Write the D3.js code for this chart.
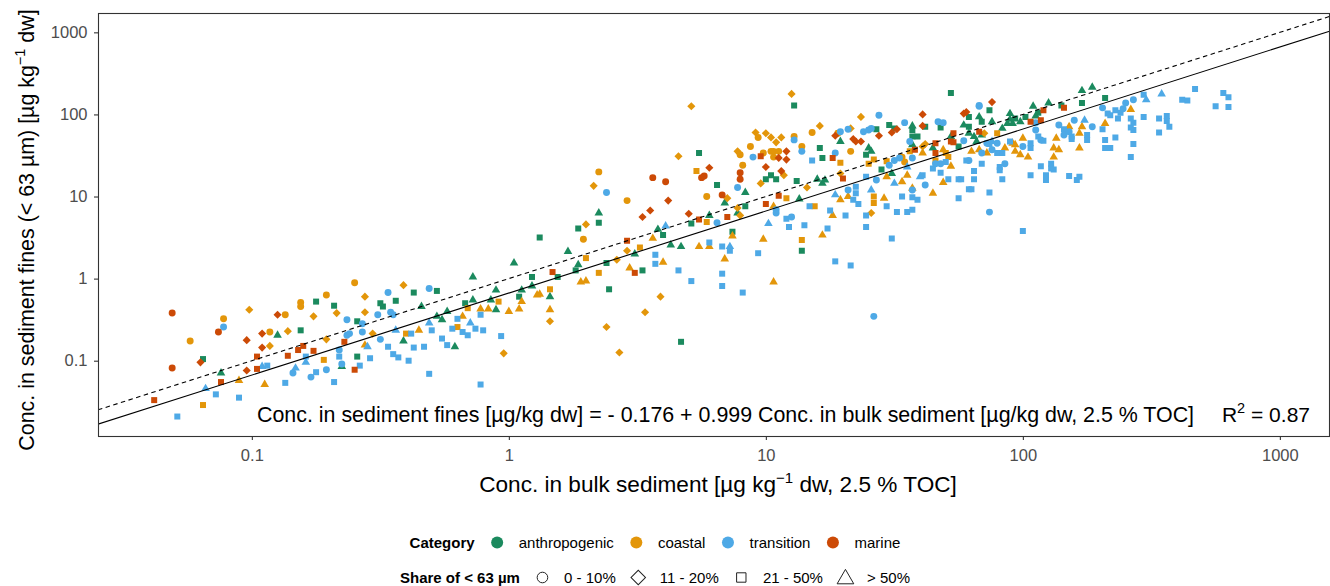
<!DOCTYPE html>
<html><head><meta charset="utf-8">
<script src="https://cdn.jsdelivr.net/npm/d3@7"></script>
<style>
body{margin:0;background:#fff;}
svg{font-family:"Liberation Sans",Arial,Helvetica,sans-serif;}
</style></head><body>
<svg id="chart" width="1330" height="586"></svg>
<script>
// categories, share classes, colours
const categories = ["anthropogenic", "coastal", "transition", "marine"];
const categoryColors = ["#1b8a5e", "#e3960a", "#4ea9e6", "#cc4a06"];
const shares = ["0 - 10%", "11 - 20%", "21 - 50%", "> 50%"];

// rows: [log10 conc. bulk, log10 conc. fines, share class index]
const anthropogenic = [
[-1.19,-0.98,2],[-1.12,-1.15,3],[-0.90,-0.69,3],[-0.81,-0.63,2],[-0.75,-0.28,2],[-0.68,-0.33,2],[-0.65,-1.07,3],[-0.59,-0.52,2],
[-0.59,-0.95,2],[-0.50,-0.30,2],[-0.49,-0.34,2],[-0.44,-0.27,2],[-0.41,-0.76,3],[-0.37,-0.17,2],[-0.34,-0.34,3],[-0.28,-0.15,2],
[-0.28,-0.46,3],[-0.26,-0.50,3],[-0.24,-0.40,3],[-0.21,-0.83,3],[-0.17,-0.30,2],[-0.14,0.02,3],[-0.14,-0.26,3],[-0.07,-0.26,3],
[-0.05,-0.38,3],[-0.05,-0.14,3],[0.02,0.19,3],[0.04,-0.22,2],[0.05,-0.14,3],[0.09,0.02,2],[0.09,-0.09,3],[0.16,-0.22,3],
[0.19,0.02,2],[0.23,0.33,3],[0.27,0.17,3],[0.26,0.10,2],[0.38,0.19,2],[0.39,-0.13,2],[0.49,0.30,3],[0.52,0.10,2],
[0.67,-0.77,2],[1.14,0.34,2],[0.12,0.50,2],[0.27,0.61,2],[0.35,0.68,2],[0.35,0.80,3],[0.58,0.60,3],[0.60,0.53,2],
[0.63,0.41,3],[0.67,0.39,3],[0.71,0.67,2],[0.74,1.53,2],[0.78,0.77,3],[0.81,1.14,2],[0.84,0.92,3],[0.87,0.57,2],
[0.89,0.80,3],[0.92,1.05,3],[0.92,0.88,2],[1.00,1.21,2],[1.02,1.26,2],[1.04,1.21,2],[1.11,2.11,2],[1.12,1.19,2],
[1.13,0.97,3],[1.20,1.21,3],[1.21,1.59,2],[1.22,1.47,2],[1.22,1.16,3],[1.23,1.20,3],[1.29,1.67,3],[1.39,1.51,2],
[1.40,1.59,3],[1.43,1.82,2],[1.48,1.87,2],[1.50,1.83,2],[1.57,1.86,3],[1.57,1.81,2],[1.57,1.73,2],[1.59,1.73,2],
[1.62,1.85,2],[1.68,1.84,2],[1.72,2.26,2],[1.57,1.63,3],[1.65,1.59,3],[1.72,1.73,3],[1.75,1.61,2],[1.77,1.87,3],
[1.79,1.97,2],[1.79,1.85,2],[1.79,1.77,3],[1.81,1.73,3],[1.82,1.67,3],[1.83,1.97,3],[1.84,1.91,2],[1.84,1.75,3],
[1.87,2.05,2],[1.88,1.91,3],[1.92,1.83,3],[1.94,1.89,3],[1.95,2.01,3],[1.95,1.94,3],[1.96,1.89,3],[1.97,1.95,2],
[1.99,1.91,3],[2.01,1.97,2],[2.04,2.10,3],[2.05,1.98,3],[2.06,2.02,2],[2.10,2.14,3],[2.15,2.11,2],[2.23,2.29,3],
[2.27,2.33,3],[2.23,2.14,2],[2.32,2.20,2],[1.41,1.55,3],[1.45,1.33,2],[1.49,1.28,3]
];
const coastal = [
[-1.24,-0.76,0],[-1.19,-1.54,2],[-1.11,-0.49,0],[-1.05,-1.24,3],[-1.01,-0.38,1],[-0.93,-0.65,0],[-0.93,-0.82,1],[-0.95,-1.29,3],
[-0.87,-0.44,0],[-0.86,-0.64,1],[-0.81,-0.29,0],[-0.81,-0.34,0],[-0.76,-0.46,1],[-0.72,-0.99,2],[-0.71,-0.20,0],[-0.71,-0.74,1],
[-0.67,-0.42,1],[-0.60,-0.05,0],[-0.56,-0.22,1],[-0.56,-0.41,1],[-0.56,-0.81,3],[-0.53,-0.67,1],[-0.41,-0.08,1],[-0.40,-0.67,2],
[-0.35,-0.63,3],[-0.20,-0.59,2],[-0.18,-0.46,3],[-0.16,-0.36,2],[-0.11,-0.37,3],[-0.08,-0.37,3],[-0.04,-0.28,2],[-0.02,-0.91,1],
[0.00,-0.40,3],[0.04,-0.37,3],[0.05,-0.28,3],[0.11,-0.20,3],[0.12,-0.19,3],[0.16,-0.13,2],[0.16,-0.38,3],[0.16,-0.52,1],
[0.28,-0.04,3],[0.30,-0.03,3],[0.30,0.25,2],[0.35,0.07,2],[0.38,-0.59,1],[0.42,0.23,1],[0.43,-0.90,1],[0.46,0.34,1],
[0.47,0.13,3],[0.53,-0.41,1],[0.59,-0.22,1],[0.60,0.20,3],[0.84,0.24,3],[1.03,-0.04,3],[0.29,0.48,0],[0.30,0.66,1],
[0.33,1.13,1],[0.35,1.30,0],[0.46,0.95,0],[0.51,0.38,2],[0.56,0.49,3],[0.66,1.49,1],[0.71,2.10,1],[0.73,1.31,2],
[0.74,0.39,3],[0.78,0.39,3],[0.77,0.69,2],[0.77,1.00,0],[0.85,0.98,1],[0.87,0.52,3],[0.89,0.86,1],[0.89,1.55,1],
[0.90,1.51,0],[0.91,1.38,0],[0.90,0.77,1],[0.94,1.61,0],[0.96,1.78,1],[0.97,1.72,0],[0.98,1.16,1],[0.99,1.53,0],
[0.99,0.48,3],[1.00,1.77,1],[1.02,1.72,1],[1.02,1.55,0],[1.03,0.88,3],[1.03,1.55,0],[1.03,1.48,0],[1.04,1.66,1],
[1.05,1.55,0],[1.06,1.72,1],[1.07,1.26,1],[1.08,0.98,2],[1.10,2.25,1],[1.11,1.73,0],[1.14,1.61,0],[1.14,0.47,2],
[1.16,1.11,1],[1.18,1.78,0],[1.19,0.88,2],[1.21,1.86,1],[1.22,0.53,3],[1.26,0.77,3],[1.28,1.77,0],[1.29,1.41,2],
[1.29,1.28,1],[1.29,0.96,3],[1.33,1.55,0],[1.33,1.83,1],[1.32,1.00,3],[1.37,1.97,1],[1.40,1.40,2],[1.56,1.55,2],
[1.62,1.64,1],[1.61,1.61,1],[1.61,1.53,3],[1.66,1.44,2],[1.69,1.57,3],[1.70,1.53,2],[1.71,1.48,2],[1.85,1.77,1],
[1.90,1.77,2],[1.42,1.45,2],[1.47,1.43,2],[1.47,1.24,3],[1.53,1.48,0],[1.54,1.42,0],[1.55,1.26,3],[1.53,1.18,3],
[1.42,1.00,2],[1.57,1.10,3],[1.65,1.04,3],[1.69,1.17,3],[1.72,1.37,3],[1.80,1.55,3],[1.83,1.57,3],[1.86,1.53,3],
[1.93,1.59,3],[1.96,1.65,3],[1.97,1.55,3],[1.97,1.63,3],[1.99,1.51,3],[2.00,1.71,3],[2.02,1.48,3],[2.12,1.48,3],
[2.12,1.59,3],[2.13,1.71,3],[2.14,1.57,3],[2.18,1.85,3],[2.22,1.59,3],[2.22,1.77,3],[2.23,1.85,3],[2.32,1.89,3],
[2.42,2.06,3],[1.41,0.80,1],[1.42,0.92,2],[1.46,0.98,3]
];
const transition = [
[-1.29,-1.68,2],[-1.18,-1.34,3],[-1.14,-1.41,2],[-1.11,-0.59,0],[-1.05,-1.45,2],[-0.96,-1.07,3],[-0.94,-1.06,2],[-0.87,-1.27,2],
[-0.84,-1.15,0],[-0.83,-1.09,3],[-0.79,-0.95,2],[-0.79,-1.02,3],[-0.77,-1.20,0],[-0.75,-1.14,2],[-0.71,-1.11,0],[-0.68,-1.26,2],
[-0.66,-0.87,0],[-0.66,-0.95,2],[-0.65,-1.04,0],[-0.63,-0.50,0],[-0.63,-0.69,0],[-0.62,-0.67,0],[-0.58,-1.06,2],[-0.57,-0.55,0],
[-0.57,-0.65,0],[-0.55,-0.83,3],[-0.54,-0.97,2],[-0.51,-0.44,0],[-0.50,-0.74,0],[-0.47,-0.83,2],[-0.47,-0.17,0],[-0.46,-0.41,0],
[-0.45,-0.44,0],[-0.45,-0.92,2],[-0.44,-0.63,3],[-0.43,-0.96,2],[-0.39,-1.00,2],[-0.38,-0.67,2],[-0.37,-0.84,2],[-0.33,-0.83,2],
[-0.31,-0.12,0],[-0.31,-0.54,3],[-0.31,-1.16,2],[-0.30,-0.63,2],[-0.26,-0.73,2],[-0.24,-0.81,2],[-0.22,-0.61,2],[-0.20,-0.49,2],
[-0.18,-0.65,2],[-0.16,-0.69,2],[-0.15,-0.54,3],[-0.13,-0.61,2],[-0.11,-1.29,2],[-0.11,-0.44,2],[-0.10,-0.63,2],[-0.03,-0.70,2],
[0.57,0.29,2],[0.57,0.18,2],[0.66,0.10,2],[0.71,-0.03,2],[0.83,-0.09,2],[0.83,0.06,2],[0.86,0.34,2],[0.91,-0.17,2],
[0.97,0.31,2],[1.27,0.21,2],[1.33,0.16,2],[0.38,1.05,0],[0.61,0.64,3],[0.78,0.44,2],[0.81,0.68,0],[0.83,0.39,2],
[0.86,0.39,3],[0.89,1.11,0],[0.95,1.48,0],[1.01,0.67,3],[1.04,0.84,0],[1.04,0.80,0],[1.08,0.73,2],[1.09,0.63,2],
[1.11,1.69,0],[1.10,0.75,0],[1.14,1.55,0],[1.15,0.65,2],[1.17,0.88,2],[1.18,1.44,2],[1.24,0.61,2],[1.25,0.83,2],
[1.27,1.53,0],[1.29,1.79,0],[1.27,1.02,3],[1.31,0.77,2],[1.32,1.82,0],[1.32,1.08,0],[1.34,0.96,2],[1.35,1.12,2],
[1.38,1.79,0],[1.35,1.04,2],[1.36,0.91,2],[1.39,0.77,2],[1.39,1.24,2],[1.39,0.63,2],[1.40,1.81,0],[1.44,1.99,0],
[1.41,1.83,0],[1.54,1.90,0],[1.67,1.91,0],[1.69,1.90,0],[1.56,1.67,0],[1.77,1.68,0],[1.83,2.10,0],[1.83,2.11,0],
[1.86,1.65,0],[1.88,1.67,3],[1.48,1.38,0],[1.50,1.44,0],[1.52,1.47,0],[1.55,1.36,3],[1.57,1.47,0],[1.50,1.16,3],
[1.43,1.20,0],[1.41,1.08,3],[1.53,1.00,2],[1.57,1.08,0],[1.57,0.99,2],[1.59,0.96,2],[1.60,1.24,3],[1.62,1.14,0],
[1.61,1.26,2],[1.65,1.34,2],[1.66,1.40,0],[1.68,1.40,0],[1.68,1.29,2],[1.70,1.42,2],[1.71,1.21,2],[1.75,1.21,2],
[1.75,0.98,2],[1.76,1.21,2],[1.78,1.44,2],[1.79,1.44,0],[1.79,1.09,2],[1.80,1.09,2],[1.81,1.21,2],[1.81,1.31,2],
[1.84,1.40,2],[1.84,1.53,0],[1.87,1.05,2],[1.87,0.81,0],[1.87,1.64,2],[1.88,1.57,0],[1.90,1.53,2],[1.90,1.65,0],
[1.91,1.36,2],[1.91,1.32,2],[1.92,1.21,2],[1.93,1.40,0],[1.92,1.53,2],[1.95,1.67,2],[2.00,1.61,0],[2.03,1.59,2],
[2.03,1.65,2],[2.03,1.26,2],[2.05,1.90,0],[2.05,1.81,0],[2.06,1.73,2],[2.07,1.69,0],[2.07,1.37,2],[2.08,1.68,2],
[2.09,1.26,2],[2.09,1.20,2],[2.11,1.40,2],[2.11,1.34,2],[2.12,1.33,2],[2.14,1.87,0],[2.16,1.82,2],[2.16,1.75,0],
[2.18,1.79,0],[2.18,1.25,2],[2.19,1.70,2],[2.19,1.73,2],[2.20,1.93,0],[2.21,1.20,2],[2.22,1.24,2],[2.24,1.93,3],
[2.25,1.69,2],[2.25,1.75,2],[2.27,1.85,0],[2.31,2.08,0],[2.31,1.82,2],[2.32,1.69,2],[2.32,1.59,2],[2.33,2.01,2],
[2.34,1.59,2],[2.34,1.99,2],[2.36,1.72,2],[2.36,2.05,2],[2.37,1.95,2],[2.38,2.02,2],[2.39,2.07,0],[2.40,2.14,0],
[2.43,2.18,0],[2.42,1.95,2],[2.42,1.84,2],[2.43,1.90,2],[2.43,1.81,2],[2.43,1.64,2],[2.42,1.48,2],[2.47,1.97,2],
[2.48,2.18,3],[2.47,2.24,2],[2.53,1.95,2],[2.53,1.78,2],[2.54,2.25,3],[2.56,1.98,2],[2.57,1.85,2],[2.56,1.92,2],
[2.62,2.18,2],[2.64,2.17,2],[2.67,2.31,2],[2.75,2.10,2],[2.78,2.26,2],[2.80,2.21,2],[2.80,2.09,2],[1.47,0.88,2],
[1.51,0.81,2],[1.55,0.81,2],[1.57,0.84,2],[2.00,0.58,2],[1.49,0.49,2],[1.42,-0.46,0]
];
const marine = [
[-1.31,-0.42,0],[-1.31,-1.09,0],[-1.38,-1.48,2],[-1.20,-1.02,1],[-1.13,-0.65,0],[-1.12,-1.26,2],[-1.02,-0.75,1],[-1.02,-1.12,1],
[-0.98,-0.95,2],[-0.98,-1.10,2],[-0.96,-0.67,1],[-0.96,-0.84,1],[-0.90,-0.44,1],[-0.86,-0.94,2],[-0.82,-0.87,2],[-0.80,-0.82,2],
[-0.76,-0.88,2],[-0.64,-0.77,2],[-0.60,-1.11,2],[0.17,0.08,2],[0.49,0.07,2],[0.46,0.46,2],[0.52,0.75,1],[0.55,0.83,1],
[0.56,1.23,0],[0.61,1.18,0],[0.62,0.95,1],[0.70,0.79,1],[0.74,0.72,2],[0.75,1.23,0],[0.76,1.25,0],[0.78,1.35,1],
[0.83,1.02,0],[0.85,0.75,2],[0.90,1.29,0],[0.90,1.21,0],[0.98,1.49,2],[1.00,1.36,1],[1.00,0.91,2],[1.05,1.01,2],
[1.06,1.31,1],[1.05,1.47,1],[1.08,1.55,1],[1.08,1.45,1],[1.26,1.47,2],[1.27,1.74,1],[1.30,1.22,2],[1.34,1.70,1],
[1.35,1.67,1],[1.37,1.67,1],[1.44,1.74,1],[1.49,1.78,1],[1.51,1.82,1],[1.61,1.86,1],[1.61,2.00,1],[1.58,1.57,2],
[1.66,1.65,2],[1.66,1.53,2],[1.73,1.77,2],[1.72,1.67,2],[1.73,1.66,2],[1.77,2.01,1],[1.78,2.03,1],[1.83,1.79,2],
[1.88,2.15,1],[2.03,1.91,2],[2.07,1.93,2],[2.08,2.05,2],[2.16,2.08,2]
];
const seriesByCategory = [anthropogenic, coastal, transition, marine];

// axes
const xLimits = [0.0252, 1560];
const yLimits = [0.0121, 1720];
const xTicks = [0.1, 1, 10, 100, 1000];
const yTicks = [0.1, 1, 10, 100, 1000];

// fitted model shown in the annotation
const fitIntercept = -0.176, fitSlope = 0.999, rSquared = 0.87;

const panel = {left: 98, top: 13, right: 1329.5, bottom: 436};
const svg = d3.select("#chart");
const x = d3.scaleLog().domain(xLimits).range([panel.left, panel.right]);
const y = d3.scaleLog().domain(yLimits).range([panel.bottom, panel.top]);

svg.append("rect").attr("width", 1330).attr("height", 586).attr("fill", "#fff");

svg.append("defs").append("clipPath").attr("id", "clip").append("rect")
  .attr("x", panel.left).attr("y", panel.top)
  .attr("width", panel.right - panel.left).attr("height", panel.bottom - panel.top);

const plot = svg.append("g").attr("clip-path", "url(#clip)");

// marker shapes: circle, diamond, square, triangle
function markerPath(share) {
  if (share === 0) return d3.symbol(d3.symbolCircle, 38)();
  if (share === 1) return d3.symbol(d3.symbolSquare, 33)();
  if (share === 2) return d3.symbol(d3.symbolSquare, 36)();
  return d3.symbol(d3.symbolTriangle, 32)();
}

const points = [];
seriesByCategory.forEach((rows, ci) => {
  rows.forEach(r => points.push({bulk: Math.pow(10, r[0]), fines: Math.pow(10, r[1]), share: r[2], cat: ci}));
});

plot.selectAll("path.pt").data(points).join("path")
  .attr("class", "pt")
  .attr("d", d => markerPath(d.share))
  .attr("transform", d => `translate(${x(d.bulk)},${y(d.fines)})` + (d.share === 1 ? " rotate(45)" : ""))
  .attr("fill", d => categoryColors[d.cat]);

// 1:1 line and fitted line
const line = d3.line().x(d => x(d[0])).y(d => y(d[1]));
plot.append("path")
  .datum(xLimits.map(v => [v, v]))
  .attr("d", line).attr("fill", "none").attr("stroke", "#000")
  .attr("stroke-width", 1.1).attr("stroke-dasharray", "4.5,3.5");
plot.append("path")
  .datum(xLimits.map(v => [v, Math.pow(10, fitIntercept + fitSlope * Math.log10(v))]))
  .attr("d", line).attr("fill", "none").attr("stroke", "#000").attr("stroke-width", 1.1);

// panel border
svg.append("rect")
  .attr("x", panel.left + 0.5).attr("y", panel.top + 0.5)
  .attr("width", panel.right - panel.left - 0.5).attr("height", panel.bottom - panel.top)
  .attr("fill", "none").attr("stroke", "#333").attr("stroke-width", 1.1);

// axes
const fmt = d => String(d);
const xAxis = svg.append("g").attr("transform", `translate(0,${panel.bottom})`)
  .call(d3.axisBottom(x).tickValues(xTicks).tickFormat(fmt).tickSize(4).tickPadding(9));
const yAxis = svg.append("g").attr("transform", `translate(${panel.left},0)`)
  .call(d3.axisLeft(y).tickValues(yTicks).tickFormat(fmt).tickSize(4).tickPadding(6.5));
[xAxis, yAxis].forEach(a => {
  a.select(".domain").remove();
  a.selectAll(".tick line").attr("stroke", "#333").attr("stroke-width", 1.1);
  a.selectAll(".tick text").attr("fill", "#4d4d4d").attr("font-size", 16.5)
    .attr("font-family", "'Liberation Sans',Arial,sans-serif");
});

// axis titles
const xt = svg.append("text").attr("x", 718).attr("y", 492).attr("text-anchor", "middle")
  .attr("font-size", 22.6).attr("fill", "#000");
xt.append("tspan").text("Conc. in bulk sediment [µg kg");
xt.append("tspan").attr("font-size", 15).attr("dy", -9).text("−1");
xt.append("tspan").attr("dy", 9).text(" dw, 2.5 % TOC]");

const yt = svg.append("text").attr("transform", "translate(34,230) rotate(-90)")
  .attr("text-anchor", "middle").attr("font-size", 21.4).attr("fill", "#000");
yt.append("tspan").text("Conc. in sediment fines (< 63 µm) [µg kg");
yt.append("tspan").attr("font-size", 14.5).attr("dy", -9).text("−1");
yt.append("tspan").attr("dy", 9).text(" dw]");

// model annotation
svg.append("text").attr("x", 257).attr("y", 421.5).attr("font-size", 21.4).attr("fill", "#000")
  .text(`Conc. in sediment fines [µg/kg dw] = - ${Math.abs(fitIntercept).toFixed(3)} + ${fitSlope.toFixed(3)} Conc. in bulk sediment [µg/kg dw, 2.5 % TOC]`);
const r2 = svg.append("text").attr("x", 1310).attr("y", 421.5).attr("text-anchor", "end")
  .attr("font-size", 21).attr("fill", "#000");
r2.append("tspan").text("R");
r2.append("tspan").attr("font-size", 14.5).attr("dy", -9).text("2");
r2.append("tspan").attr("dy", 9).text(" = " + rSquared.toFixed(2));

// legends
function legendRow(yc, title, labels, drawKey) {
  const g = svg.append("g");
  const t = g.append("text").attr("x", 0).attr("y", yc).attr("dy", "0.36em")
    .attr("font-size", 15).attr("font-weight", "bold").text(title);
  let cx = t.node().getComputedTextLength() + 22.5;
  labels.forEach((lab, i) => {
    drawKey(g.append("g").attr("transform", `translate(${cx},${yc})`), i);
    const lt = g.append("text").attr("x", cx + 21.6).attr("y", yc).attr("dy", "0.36em")
      .attr("font-size", 15).text(lab);
    cx = cx + 21.6 + lt.node().getComputedTextLength() + 22.5;
  });
  const w = cx - 22.5;
  g.attr("transform", `translate(${655 - w / 2},0)`);
}

legendRow(542.5, "Category", categories, (k, i) => {
  k.append("circle").attr("r", 6).attr("fill", categoryColors[i]);
});
legendRow(577.5, "Share of < 63 µm", shares, (k, i) => {
  let d;
  if (i === 0) d = d3.symbol(d3.symbolCircle, 88)();
  else if (i === 1) d = d3.symbol(d3.symbolSquare, 105)();
  else if (i === 2) d = d3.symbol(d3.symbolSquare, 88)();
  else d = d3.symbol(d3.symbolTriangle, 120)();
  k.append("path").attr("d", d).attr("fill", "none").attr("stroke", "#222").attr("stroke-width", 1)
    .attr("transform", i === 1 ? "rotate(45)" : (i === 3 ? "translate(0,1.5)" : null));
});
</script>
</body></html>
